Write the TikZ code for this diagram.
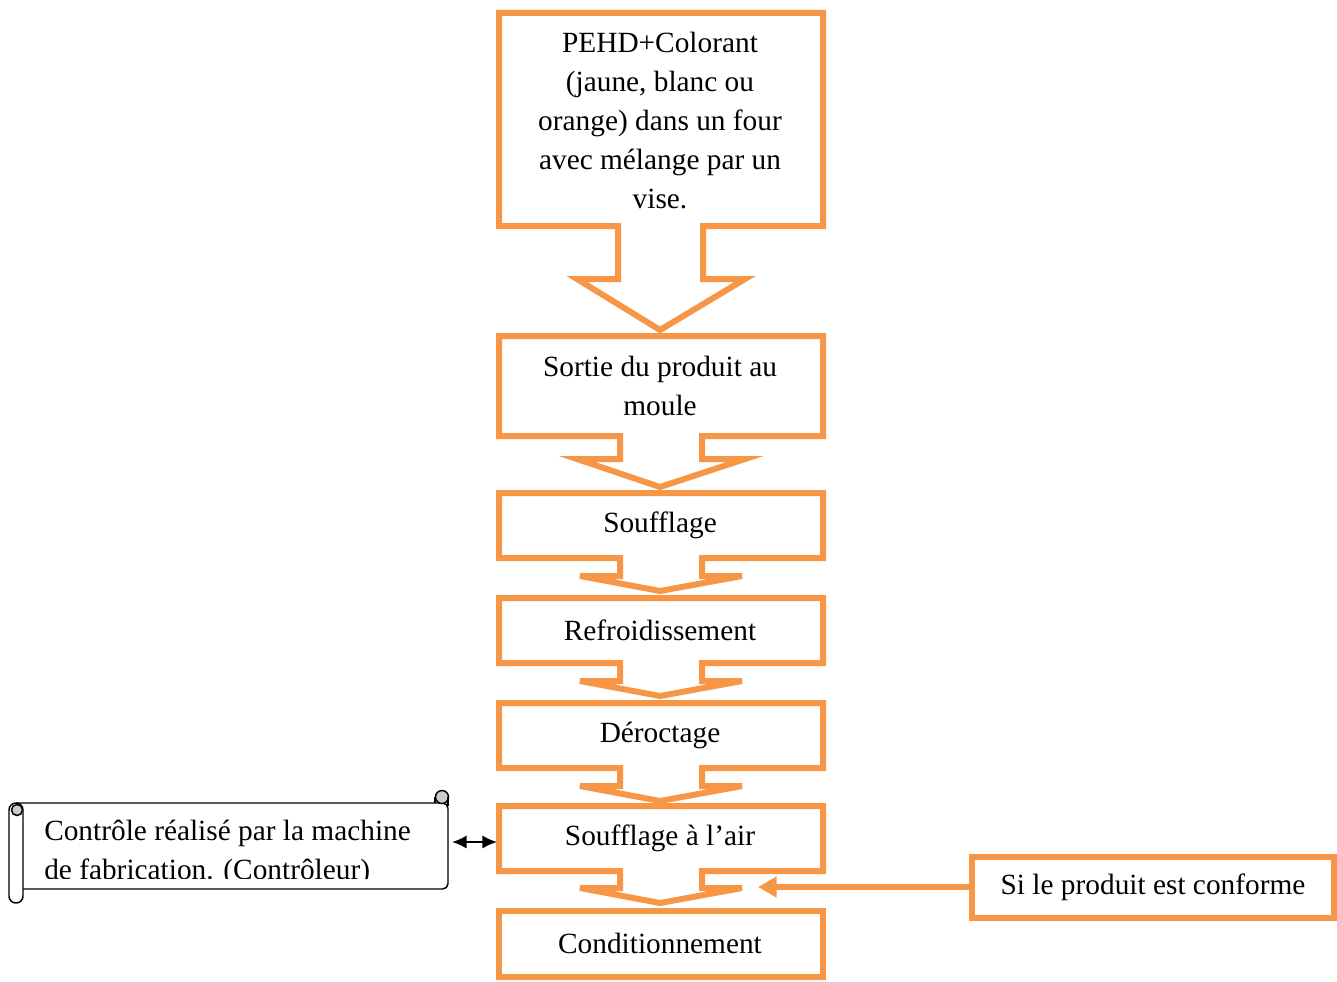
\documentclass[tikz,border=0pt]{standalone}
\usepackage{fontspec}
\setmainfont{Liberation Serif}
\usetikzlibrary{arrows.meta}
\definecolor{accorange}{HTML}{F79646}
\begin{document}
\begin{tikzpicture}[x=0.75pt,y=-0.75pt,
  callout/.style={draw=accorange,line width=4.5pt,line join=miter,fill=white},
  lbl/.style={font=\fontsize{22}{29.25}\selectfont,align=center,inner sep=0pt,text=black},
  sibox/.style={draw=accorange,line width=4.5pt,fill=white,minimum width=271.5pt,minimum height=45.75pt,inner sep=0pt,font=\fontsize{22}{29.25}\selectfont},
  scl/.style={draw=black,line width=1.1pt},
  orarrow/.style={draw=accorange,line width=4.5pt,-{Triangle[length=14pt,width=15pt]}},
  dblarrow/.style={draw=black,line width=1.5pt,{Latex[length=11pt,width=10pt]}-{Latex[length=11pt,width=10pt]}},
]
\useasboundingbox (0,0) rectangle (1337,981);

% flow callouts
\draw[callout] (499,13) -- (823,13) -- (823,226) -- (703,226) -- (703,279) -- (745,279) -- (660,330) -- (577,279) -- (618,279) -- (618,226) -- (499,226) -- cycle;
\draw[callout] (499,336) -- (823,336) -- (823,436) -- (702,436) -- (702,459) -- (745,459) -- (660,487) -- (577,459) -- (620,459) -- (620,436) -- (499,436) -- cycle;
\draw[callout] (499,493) -- (823,493) -- (823,558) -- (702,558) -- (702,576) -- (742,576) -- (660,591) -- (580,576) -- (620,576) -- (620,558) -- (499,558) -- cycle;
\draw[callout] (499,598) -- (823,598) -- (823,663) -- (702,663) -- (702,681) -- (742,681) -- (660,696) -- (580,681) -- (620,681) -- (620,663) -- (499,663) -- cycle;
\draw[callout] (499,703) -- (823,703) -- (823,768) -- (702,768) -- (702,786) -- (742,786) -- (660,801) -- (580,786) -- (620,786) -- (620,768) -- (499,768) -- cycle;
\draw[callout] (499,806) -- (823,806) -- (823,871) -- (702,871) -- (702,888) -- (742,888) -- (660,903) -- (580,888) -- (620,888) -- (620,871) -- (499,871) -- cycle;
\draw[callout] (499,911) rectangle (823,977);

\node[lbl] (n1) at (660,121) {PEHD+Colorant\\(jaune, blanc ou\\orange) dans un four\\avec mélange par un\\vise.};
\node[lbl] (n2) at (660,386) {Sortie du produit au\\moule};
\node[lbl] (n3) at (660,525) {Soufflage};
\node[lbl] (n4) at (660,630) {Refroidissement};
\node[lbl] (n5) at (660,735) {Déroctage};
\node[lbl] (n6) at (660,838) {Soufflage à l’air};
\node[lbl] (n7) at (660,943) {Conditionnement};

% right condition box
\node[sibox] (si) at (1153,887) {Si le produit est conforme};
\coordinate (arrtip) at (758,887);
\draw[orarrow] (si.west) -- (arrtip);

% scroll
\draw[scl,fill=white,rounded corners=4pt] (16,803) -- (448,803) -- (448,889) -- (23,889);
\fill[white] (430,790) rectangle (455,802);
\draw[scl,fill=gray!40] (442,797) circle[radius=6.5];
\draw[scl] (435,797) -- (435,803);
\draw[scl] (448,797) -- (448,806);
\draw[scl,fill=white,rounded corners=5.2pt] (9,803) rectangle (23,903);
\draw[scl,fill=gray!40] (17,810) circle[radius=5.5];
\begin{scope}
\clip (24,805) rectangle (446,878);
\node[lbl,align=left,anchor=west] (ctl) at (44,853) {Contrôle réalisé par la machine\\de fabrication. (Contrôleur)};
\end{scope}
\coordinate (scrollE) at (452,842);
\coordinate (b6w) at (497,842);
\draw[dblarrow] (scrollE) -- (b6w);
\end{tikzpicture}
\end{document}
